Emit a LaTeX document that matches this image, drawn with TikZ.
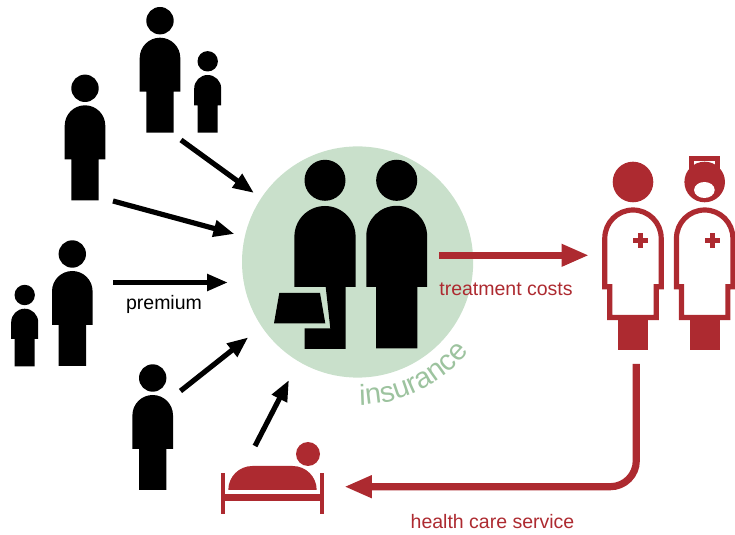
\documentclass[tikz,border=0pt]{standalone}
\usepackage{fontspec}
\setmainfont{Liberation Sans}
\usepackage{xcolor}
\usepackage{tikz}
\usetikzlibrary{arrows.meta, decorations.text}

\definecolor{sickred}{HTML}{AD2A30}
\definecolor{poolgreen}{HTML}{C9E0CB}
\definecolor{poolname}{HTML}{9DC39F}

\tikzset{
    pays/.style={line width=5.2*0.5669pt, -{Triangle[length=0.42cm, width=0.32cm]}},
    serves/.style={sickred, line width=7.2*0.5669pt, -{Triangle[length=0.55cm, width=0.42cm]}},
    caption/.style={anchor=base, inner sep=0pt, font=\fontsize{11.1}{13}\selectfont},
    adult/.pic={
        \fill (0,0) circle (13.7);
        \fill (-20.3,-71) -- (-20.3,-37.3) arc (180:0:20.3) -- (20.3,-71) -- (13.7,-71)
            -- (13.7,-112) -- (-13.7,-112) -- (-13.7,-71) -- cycle;
    },
    child/.pic={
        \fill (0,0) circle (10.2);
        \fill (-13.5,-44) -- (-13.5,-27.2) arc (180:0:13.5) -- (13.5,-44) -- (10,-44)
            -- (10,-71.4) -- (-10,-71.4) -- (-10,-44) -- cycle;
    },
    gown/.pic={
        \draw[sickred, line width=5.2*0.5669pt] (-28.2,-104.8) -- (-28.2,-56.2) arc (180:0:28.2)
            -- (28.2,-104.8) -- (23.2,-104.8) -- (23.2,-135.5) -- (-23.2,-135.5) -- (-23.2,-104.8) -- cycle;
        \fill[sickred] (-15.2,-136) rectangle (15.2,-168.3);
        \fill[sickred] (0,-56.2) rectangle (15.4,-61.2);
        \fill[sickred] (5.2,-51) rectangle (10.2,-66.4);
    },
}

\begin{document}
\begin{tikzpicture}[x=0.02cm, y=0.02cm]
    \useasboundingbox (0,0) rectangle (735,535);
    % the pool
    \coordinate (O) at (357.6,273);
    \fill[poolgreen] (O) circle (115.6);
    \path[decorate, decoration={text along path, text align=center,
        text={|\fontsize{16.5}{16.5}\selectfont\color{poolname}|insurance}}]
        ([shift={(-95:143)}]O) arc (-95:-33:143);
    % the insured
    \pic at (160,514.3) {adult};
    \pic at (207.7,473.7) {child};
    \pic at (85,446.7) {adult};
    \pic at (72.3,281) {adult};
    \pic at (24.7,240) {child};
    \pic at (152.7,157) {adult};
    % the couple inside the pool
    \pic[scale=1.5] at (396.7,354.7) {adult};
    \fill (325,354.7) circle (20.5);
    \fill (294.4,248) -- (294.4,298.4) arc (180:0:30.6) -- (355.6,248) -- cycle;
    \fill (325.7,248) -- (330.3,206.7) -- (304.5,206.7) -- (304.5,186) -- (345.5,186) -- (345.5,248) -- cycle;
    \fill (279.3,242) -- (320,242) -- (325.3,211.7) -- (274,211.7) -- cycle;
    % doctor and nurse
    \fill[sickred] (633,353) circle (20.3);
    \pic at (633,353) {gown};
    \fill[sickred] (689.3,379) rectangle (720,360);
    \fill[white] (694,374) rectangle (715.3,368.3);
    \fill[sickred] (704.7,353) circle (20.3);
    \fill[white] (704.4,345) ellipse (10.3 and 8);
    \pic at (704.7,353) {gown};
    % the patient
    \fill[sickred] (308,81) circle (12);
    \fill[sickred] (228.3,45) arc (180:90:24) -- (292.7,69) arc (90:0:24) -- cycle;
    \fill[sickred] (221,62.3) rectangle (225.3,21);
    \fill[sickred] (320,62.3) rectangle (324.2,21);
    \fill[sickred] (221,40.7) rectangle (324.2,34);
    % premiums
    \coordinate (A1) at (181,395);
    \coordinate (B1) at (254,342);
    \coordinate (A2) at (113,334);
    \coordinate (B2) at (234.5,301);
    \coordinate (A3) at (113,252.5);
    \coordinate (B3) at (228,252.5);
    \coordinate (A4) at (180.5,144);
    \coordinate (B4) at (248.3,197.7);
    \coordinate (A5) at (255,89);
    \coordinate (B5) at (289,155);
    \foreach \i in {1,...,5} {
        \draw[pays] (A\i) -- (B\i);
    }
    % costs and service
    \coordinate (C1) at (439,279.7);
    \coordinate (D1) at (589,279.7);
    \coordinate (C2) at (636.3,171);
    \coordinate (D2) at (344.3,48.3);
    \draw[serves] (C1) -- (D1);
    \draw[serves, rounded corners=0.52cm] (C2) |- (D2);
    \node[caption] (premium) at (164,225) {premium};
    \node[caption, sickred] (costs) at (506,239) {treatment costs};
    \node[caption, sickred] (service) at (492.5,6.7) {health care service};
\end{tikzpicture}
\end{document}
